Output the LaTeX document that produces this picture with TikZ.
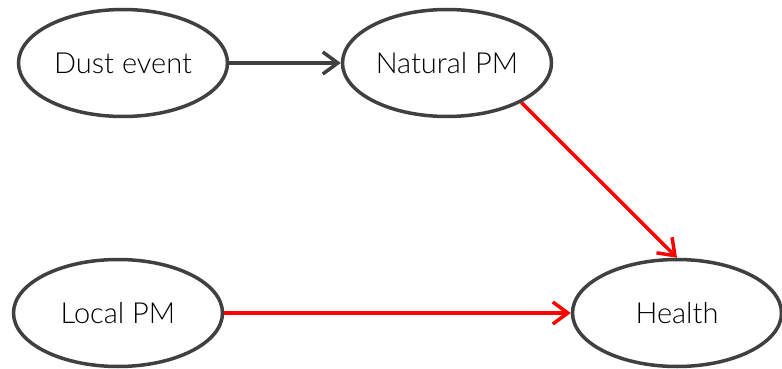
\documentclass[tikz,border=0pt]{standalone}
\usepackage{fontspec}
\setmainfont{Lato Light}
\usetikzlibrary{shapes.geometric,arrows.meta}
\definecolor{edge}{HTML}{404040}
\definecolor{txt}{HTML}{000000}
\begin{document}
\begin{tikzpicture}[x=1pt,y=-1pt,
  var/.style={ellipse,draw=edge,line width=3.5pt,minimum width=209pt,minimum height=107pt,inner sep=0pt,text=txt,font=\fontsize{29}{32}\selectfont},
  darr/.style={draw=edge,line width=3.5pt,-{Straight Barb[length=15pt,width=22pt,line width=3.5pt]}},
  rarr/.style={draw=red,line width=3.5pt,-{Straight Barb[length=15pt,width=22pt,line width=3.5pt]}}]
\useasboundingbox (0,0) rectangle (782,369);
\node[var] (dust) at (123,63) {Dust event};
\node[var] (nat) at (447,63) {Natural PM};
\node[var] (local) at (118,313) {Local PM};
\node[var] (health) at (677,313) {Health};
\draw[darr] (dust.east) -- (nat.west);
\draw[rarr] (nat.-28) -- (health.north);
\draw[rarr] (local.east) -- (health.west);
\end{tikzpicture}
\end{document}
